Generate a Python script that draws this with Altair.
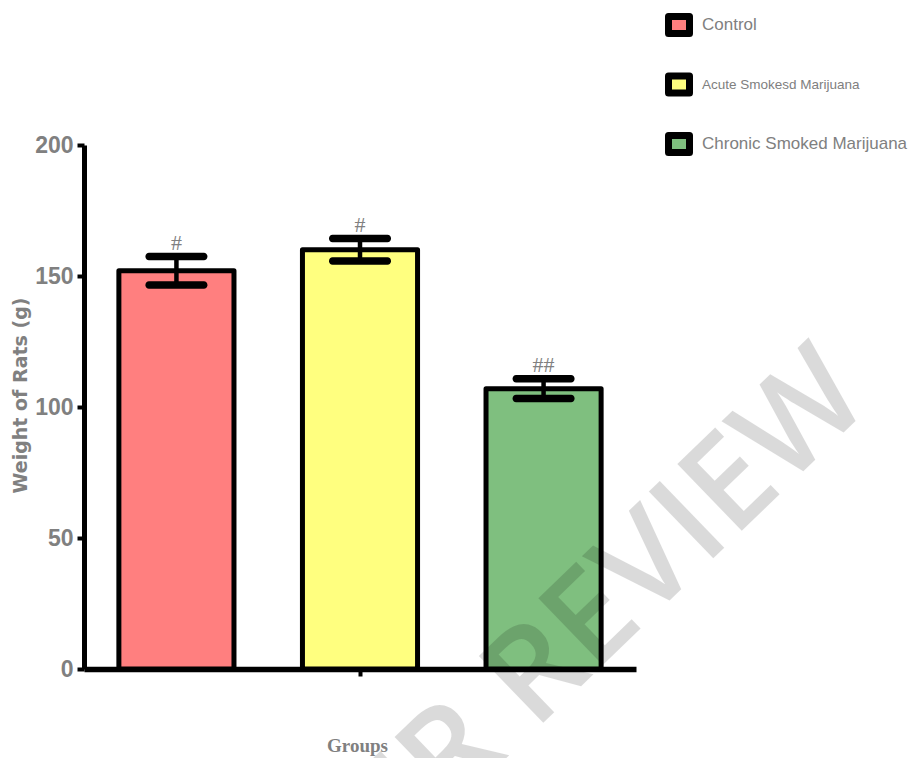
import altair as alt
import pandas as pd

# Body weight of rats per treatment group (mean ± SEM, grams)
groups = ["Control", "Acute Smokesd Marijuana", "Chronic Smoked Marijuana"]
mean_weight = [152, 160, 107]
sem_weight = [5.4, 4.3, 3.8]
significance = ["#", "#", "##"]
bar_colors = ["#ff7f7f", "#ffff7f", "#7fbf7f"]

df = pd.DataFrame({
    "axis": ["Groups"] * len(groups),
    "group": groups,
    "mean": mean_weight,
    "sem": sem_weight,
    "sig": significance,
})

GREY = "#808080"
SANS = "Liberation Sans, Arial, sans-serif"

x_enc = alt.X("axis:N", title="Groups",
              scale=alt.Scale(paddingInner=0, paddingOuter=0))
xoff_enc = alt.XOffset("group:N", sort=groups,
                       scale=alt.Scale(domain=groups, paddingInner=0.373, paddingOuter=0.19))
y_scale = alt.Scale(domain=[0, 200])
y_axis = alt.Axis(values=[0, 50, 100, 150, 200])
Y_TITLE = "Weight of Rats (g)"
fill_enc = alt.Fill("group:N", scale=alt.Scale(domain=groups, range=bar_colors), legend=None)

base = alt.Chart(df)

bars = base.mark_bar(stroke="black", strokeWidth=5, strokeJoin="round").encode(
    x=x_enc, xOffset=xoff_enc,
    y=alt.Y("mean:Q", scale=y_scale, axis=y_axis, title=Y_TITLE),
    fill=fill_enc,
)

err = base.transform_calculate(lo="datum.mean - datum.sem", hi="datum.mean + datum.sem")

stem = err.mark_rule(color="black", strokeWidth=4.5, opacity=1).encode(
    x=x_enc, xOffset=xoff_enc,
    y=alt.Y("lo:Q", scale=y_scale, axis=y_axis, title=Y_TITLE),
    y2="hi:Q",
)

cap_style = dict(color="black", size=62, thickness=7.5, cornerRadius=3.5, opacity=1)
cap_hi = err.mark_tick(**cap_style).encode(
    x=x_enc, xOffset=xoff_enc,
    y=alt.Y("hi:Q", scale=y_scale, axis=y_axis, title=Y_TITLE),
)
cap_lo = err.mark_tick(**cap_style).encode(
    x=x_enc, xOffset=xoff_enc,
    y=alt.Y("lo:Q", scale=y_scale, axis=y_axis, title=Y_TITLE),
)

marks = err.mark_text(font="Liberation Serif", fontSize=22, color=GREY,
                      baseline="alphabetic", dy=-7).encode(
    x=x_enc, xOffset=xoff_enc,
    y=alt.Y("hi:Q", scale=y_scale, axis=y_axis, title=Y_TITLE),
    text="sig:N",
)

main = alt.layer(bars, stem, cap_hi, cap_lo, marks)

# Legend drawn as its own layer in the top-right margin
leg_y = alt.Y("group:N", sort=groups,
              scale=alt.Scale(domain=groups, range=[-120, -1], padding=0), axis=None)

leg_symbol = base.mark_point(
    shape="M-1,-0.8H1V0.8H-1Z", size=441, filled=True, opacity=1,
    stroke="black", strokeWidth=7, strokeJoin="round",
).encode(x=alt.value(595), y=leg_y, fill=fill_enc)

leg_text = base.mark_text(align="left", baseline="middle", font=SANS, color=GREY).encode(
    x=alt.value(618), y=leg_y, text="group:N",
    size=alt.condition("datum.group == 'Acute Smokesd Marijuana'", alt.value(13.5), alt.value(17)),
)

legend = alt.layer(leg_symbol, leg_text)

watermark = alt.Chart(pd.DataFrame({"label": ["PEER REVIEW"]})).mark_text(
    angle=316, fontSize=130, font="Open Sans", fontWeight=600,
    color="black", opacity=0.14, align="center", baseline="middle",
).encode(x=alt.value(470), y=alt.value(513), text="label:N")

chart = alt.layer(main, legend, watermark).resolve_scale(y="independent").properties(
    width=552, height=524,
    autosize=alt.AutoSizeParams(type="none"),
    padding={"left": 84, "top": 145, "right": 275, "bottom": 89},
).configure_view(stroke=None).configure_axisY(
    grid=False, domainColor="black", domainWidth=5,
    tickColor="black", tickWidth=4, tickSize=7,
    labelFont=SANS, labelFontWeight="bold", labelFontSize=23, labelColor=GREY,
    labelPadding=4,
    titleFont="DejaVu Sans", titleFontWeight="bold", titleFontSize=19, titleColor=GREY,
    titleAngle=270, titleX=-64, titleY=250, titleAlign="center", titleBaseline="middle",
).configure_axisX(
    grid=False, labels=False, domainColor="black", domainWidth=5.5,
    tickColor="black", tickWidth=4, tickSize=7,
    titleFont="Liberation Serif", titleFontWeight="bold", titleFontSize=19, titleColor=GREY,
    titleX=273, titleY=76, titleAlign="center", titleBaseline="middle",
)

chart.save("out.html", embed_options={"renderer": "svg", "actions": False})
